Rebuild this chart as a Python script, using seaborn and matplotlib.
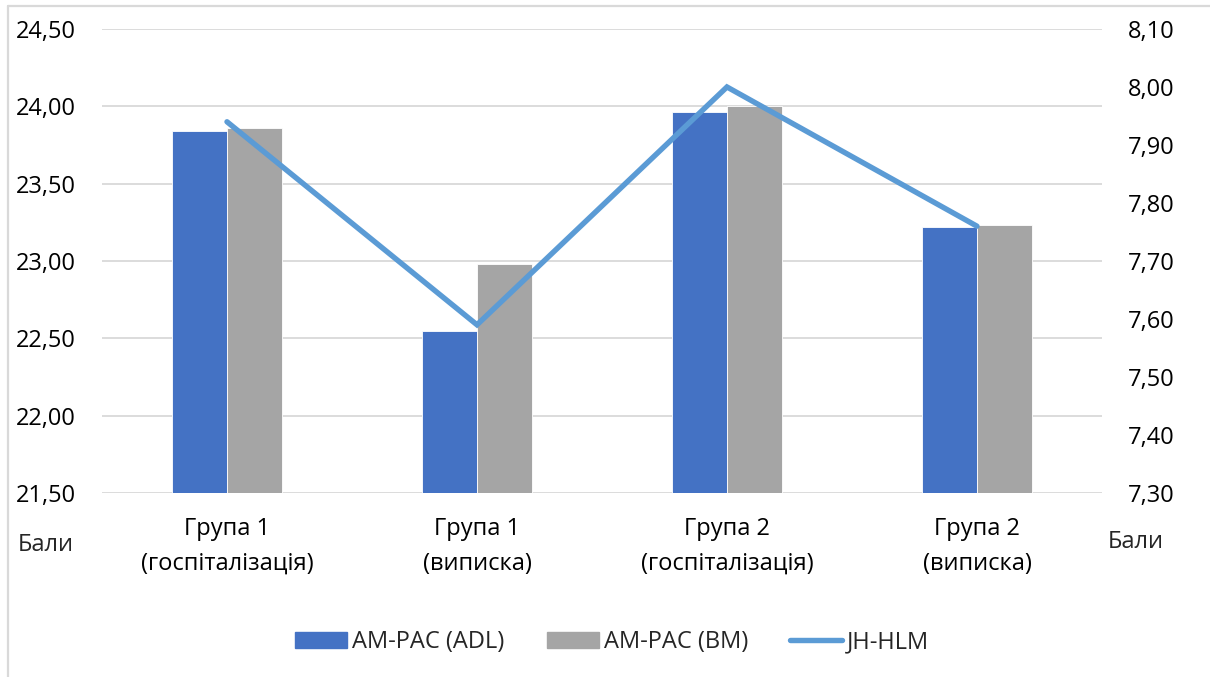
import matplotlib
matplotlib.use("Agg")
import matplotlib.pyplot as plt
from matplotlib.ticker import FuncFormatter, MultipleLocator
from matplotlib.lines import Line2D
import numpy as np
import pandas as pd
import seaborn as sns

# Data
categories = ["Група 1\n(госпіталізація)", "Група 1\n(виписка)",
              "Група 2\n(госпіталізація)", "Група 2\n(виписка)"]
adl_values = [23.84, 22.55, 23.96, 23.22]
bm_values = [23.86, 22.98, 24.00, 23.23]
hlm_values = [7.94, 7.59, 8.00, 7.76]
series_names = ["AM-PAC (ADL)", "AM-PAC (BM)", "JH-HLM"]
axis_label = "Бали"

BLUE = "#4472C4"
GRAY = "#A5A5A5"
LINE = "#5B9BD5"
GRID = "#D9D9D9"

sns.set_theme(style="white")
plt.rcParams["font.family"] = ["Open Sans", "DejaVu Sans"]
FS = 17

df = pd.DataFrame({
    "category": categories * 2,
    "value": adl_values + bm_values,
    "series": [series_names[0]] * 4 + [series_names[1]] * 4,
})

fig = plt.figure(figsize=(12.10, 6.77), dpi=100)
ax = fig.add_axes([0.0843, 0.2718, 0.8264, 0.6854])

sns.barplot(data=df, x="category", y="value", hue="series",
            hue_order=series_names[:2], palette=[BLUE, GRAY],
            saturation=1, width=0.44, ax=ax, edgecolor="white",
            linewidth=0.6, legend=True)
if ax.get_legend() is not None:
    ax.get_legend().remove()

ax.set_xlim(-0.5, 3.5)
ax.set_ylim(21.5, 24.5)
ax.yaxis.set_major_locator(MultipleLocator(0.5))
comma = FuncFormatter(lambda v, p: f"{v:.2f}".replace(".", ","))
ax.yaxis.set_major_formatter(comma)
ax.grid(axis="y", color=GRID, linewidth=1.3)
ax.set_axisbelow(True)
for s in ax.spines.values():
    s.set_visible(False)
ax.tick_params(axis="both", length=0, labelsize=FS, colors="black")
ax.tick_params(axis="y", pad=19)
ax.tick_params(axis="x", pad=17)
ax.set_xlabel("")
ax.set_ylabel("")
for t in ax.get_xticklabels():
    t.set_linespacing(1.62)

ax2 = ax.twinx()
sns.lineplot(x=np.arange(len(categories)), y=hlm_values, ax=ax2,
             color=LINE, linewidth=3.9, solid_capstyle="round",
             solid_joinstyle="miter", label=series_names[2])
if ax2.get_legend() is not None:
    ax2.get_legend().remove()
ax2.set_ylim(7.3, 8.1)
ax2.yaxis.set_major_locator(MultipleLocator(0.1))
ax2.yaxis.set_major_formatter(comma)
ax2.grid(False)
for s in ax2.spines.values():
    s.set_visible(False)
ax2.tick_params(axis="y", length=0, labelsize=FS, pad=19, colors="black")
ax2.set_xlim(-0.5, 3.5)

fig.text(18 / 1210, 1 - 545 / 677, axis_label, fontsize=FS, va="center", ha="left")
fig.text(1108 / 1210, 1 - 542 / 677, axis_label, fontsize=FS, va="center", ha="left")

# Legend
handles = [plt.Rectangle((0, 0), 1, 1, color=BLUE),
           plt.Rectangle((0, 0), 1, 1, color=GRAY),
           Line2D([0], [0], color=LINE, linewidth=3.9, solid_capstyle="round")]
fig.legend(handles, series_names, loc="center", bbox_to_anchor=(0.506, 1 - 642 / 677),
           ncol=3, frameon=False, fontsize=FS, handlelength=2.2,
           handleheight=0.65, handletextpad=0.2, columnspacing=1.8)

# Chart-area border
fig.add_artist(Line2D([7.5 / 1210, 7.5 / 1210], [0, 1 - 6 / 677],
                      transform=fig.transFigure, color=GRID, linewidth=1.6))
fig.add_artist(Line2D([7.5 / 1210, 1], [1 - 6 / 677, 1 - 6 / 677],
                      transform=fig.transFigure, color=GRID, linewidth=1.6))

fig.savefig("out.png", dpi=100, facecolor="white")
